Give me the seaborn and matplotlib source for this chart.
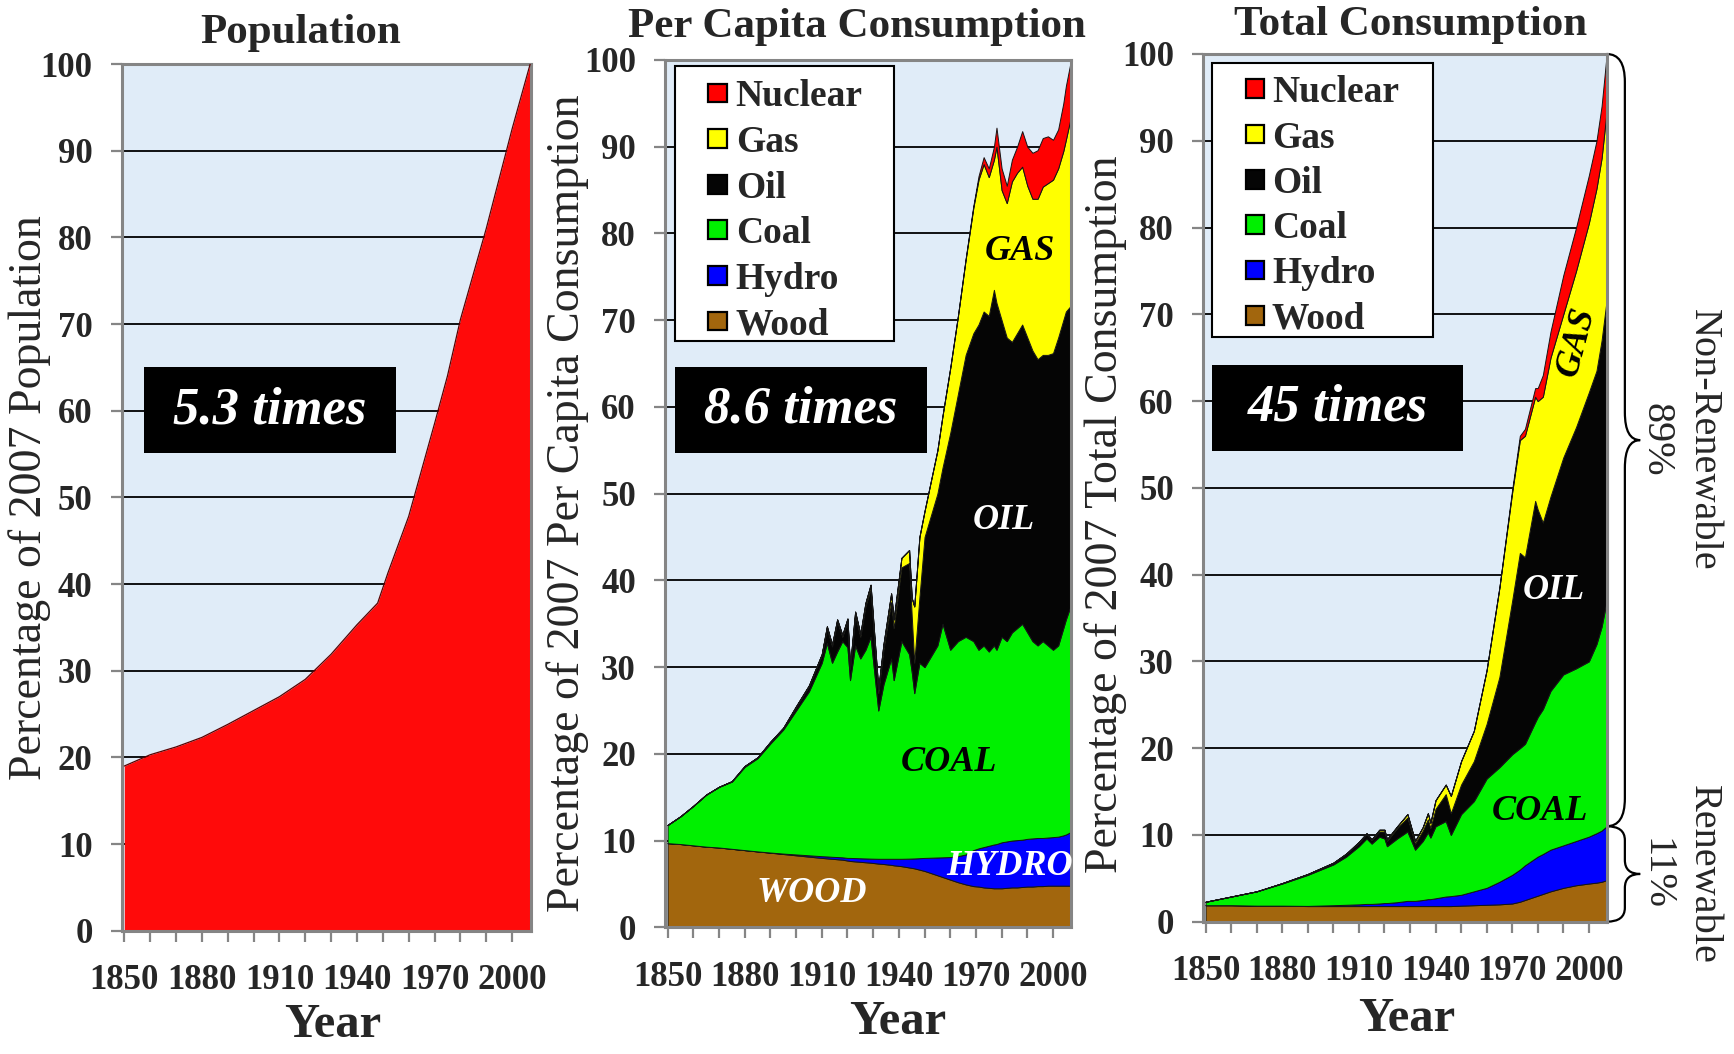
import numpy as np
import matplotlib
matplotlib.use("Agg")
import matplotlib.pyplot as plt
import seaborn as sns
from matplotlib.patches import Rectangle, PathPatch
from matplotlib.path import Path
from matplotlib.transforms import blended_transform_factory
from matplotlib.font_manager import FontProperties

sns.set_theme(style="white")
plt.rcParams["font.family"] = ["Liberation Serif", "DejaVu Serif"]

W, H = 1734, 1054

# ---------------- data ----------------
pop_years = [1850, 1860, 1870, 1880, 1890, 1900, 1910, 1920, 1930, 1940,
             1948, 1952, 1960, 1970, 1975, 1980, 1990, 2000, 2007]
pop_pct = [19.0, 20.3, 21.2, 22.3, 23.8, 25.4, 27.0, 29.0, 31.9, 35.3,
           37.8, 41.3, 47.8, 58.5, 64.0, 70.5, 81.0, 92.5, 100.0]

# per-capita consumption, cumulative layer tops (% of 2007)
pc_years = [1850, 1855, 1860, 1865, 1870, 1875, 1880, 1885, 1890, 1895,
            1900, 1905, 1910, 1912, 1914, 1916, 1918, 1920, 1921, 1923,
            1925, 1927, 1929, 1932, 1934, 1937, 1938, 1941, 1944, 1945,
            1946, 1948, 1950, 1955, 1957, 1960, 1963, 1966, 1969, 1971,
            1973, 1975, 1977, 1978, 1980, 1982, 1984, 1986, 1988, 1990,
            1992, 1994, 1996, 1998, 2000, 2002, 2004, 2005, 2007]
pc_wood_top = [9.7, 9.6, 9.45, 9.3, 9.2, 9.05, 8.9, 8.75, 8.6, 8.45,
               8.3, 8.15, 8.0, 7.95, 7.9, 7.85, 7.8, 7.7, 7.65, 7.6,
               7.55, 7.5, 7.45, 7.35, 7.3, 7.2, 7.15, 7.05, 6.9, 6.85,
               6.8, 6.65, 6.5, 6.0, 5.8, 5.5, 5.2, 4.95, 4.75, 4.7,
               4.6, 4.55, 4.5, 4.5, 4.5, 4.55, 4.6, 4.6, 4.65, 4.7,
               4.7, 4.75, 4.75, 4.8, 4.8, 4.8, 4.8, 4.8, 4.8]
pc_hydro_top = [9.7, 9.6, 9.45, 9.3, 9.2, 9.05, 8.9, 8.75, 8.62, 8.5,
                8.4, 8.3, 8.2, 8.17, 8.13, 8.1, 8.07, 8.0, 8.0, 7.98,
                7.96, 7.94, 7.92, 7.9, 7.9, 7.9, 7.9, 7.9, 7.92, 7.93,
                7.94, 7.97, 8.0, 8.05, 8.07, 8.1, 8.2, 8.4, 8.9, 9.1,
                9.25, 9.4, 9.55, 9.6, 9.8, 9.9, 10.0, 10.05, 10.1, 10.2,
                10.25, 10.3, 10.3, 10.35, 10.4, 10.45, 10.6, 10.7, 11.0]
pc_coal_top = [11.8, 12.8, 14.0, 15.3, 16.2, 16.8, 18.5, 19.5, 21.2, 22.8,
               25.0, 27.2, 30.5, 32.8, 30.5, 31.8, 33.0, 32.3, 28.5, 32.5,
               31.0, 32.0, 33.5, 25.0, 28.0, 31.0, 28.5, 33.0, 31.5, 29.5,
               27.0, 30.5, 30.0, 32.5, 35.0, 32.0, 33.0, 33.5, 33.0, 32.0,
               32.5, 31.8, 32.5, 32.0, 33.5, 33.0, 34.0, 34.5, 35.0, 34.0,
               33.0, 32.5, 33.0, 32.5, 32.0, 32.5, 34.5, 35.5, 37.2]
pc_oil_top = [11.8, 12.8, 14.0, 15.3, 16.2, 16.85, 18.6, 19.6, 21.4, 23.0,
              25.4, 27.8, 31.4, 34.5, 32.4, 35.3, 33.5, 35.3, 29.8, 36.0,
              33.5, 37.0, 39.0, 27.0, 32.0, 37.5, 34.5, 41.5, 42.0, 36.0,
              30.5, 38.0, 45.0, 50.0, 53.0, 57.0, 61.5, 66.0, 68.5, 69.5,
              71.0, 70.5, 73.5, 72.0, 70.0, 68.0, 67.5, 68.5, 69.5, 68.0,
              66.5, 65.5, 66.0, 66.0, 66.2, 68.0, 70.0, 71.0, 71.7]
pc_gas_top = [11.8, 12.8, 14.0, 15.3, 16.2, 16.85, 18.6, 19.6, 21.4, 23.0,
              25.5, 27.9, 31.5, 34.7, 32.6, 35.5, 33.7, 35.6, 30.1, 36.4,
              33.8, 37.4, 39.5, 27.5, 32.6, 38.5, 35.5, 42.6, 43.5, 38.0,
              37.0, 45.0, 48.0, 55.0, 59.0, 64.5, 70.5, 77.0, 83.0, 86.2,
              88.0, 86.5, 88.5, 90.0, 85.0, 83.5, 86.0, 87.0, 87.7, 85.5,
              84.0, 84.0, 85.4, 85.8, 86.2, 87.5, 89.5, 90.8, 93.5]
pc_total = [11.8, 12.8, 14.0, 15.3, 16.2, 16.85, 18.6, 19.6, 21.4, 23.0,
            25.5, 27.9, 31.5, 34.7, 32.6, 35.5, 33.7, 35.6, 30.1, 36.4,
            33.8, 37.4, 39.5, 27.5, 32.6, 38.5, 35.5, 42.6, 43.5, 38.0,
            37.0, 45.0, 48.0, 55.0, 59.0, 64.5, 70.5, 77.1, 83.2, 86.6,
            88.8, 87.5, 90.0, 92.2, 87.5, 85.5, 88.5, 90.0, 91.8, 90.0,
            89.3, 89.6, 91.0, 91.2, 90.8, 92.0, 95.0, 97.0, 100.0]

# total consumption, cumulative layer tops (% of 2007)
tc_years = [1850, 1860, 1870, 1880, 1890, 1900, 1905, 1910, 1913, 1915,
            1918, 1920, 1921, 1925, 1929, 1932, 1935, 1937, 1938, 1940,
            1944, 1946, 1950, 1955, 1960, 1965, 1970, 1973, 1975, 1979,
            1980, 1982, 1985, 1990, 1995, 2000, 2003, 2005, 2007]
tc_wood_top = [1.9, 1.9, 1.85, 1.85, 1.8, 1.8, 1.8, 1.8, 1.8, 1.8,
               1.8, 1.8, 1.8, 1.8, 1.8, 1.8, 1.8, 1.8, 1.8, 1.8,
               1.8, 1.8, 1.85, 1.9, 1.95, 2.0, 2.1, 2.3, 2.5, 2.9,
               3.0, 3.2, 3.5, 3.9, 4.2, 4.4, 4.5, 4.6, 4.8]
tc_hydro_top = [1.9, 1.9, 1.85, 1.85, 1.82, 1.9, 1.95, 2.0, 2.05, 2.05,
                2.1, 2.15, 2.15, 2.25, 2.4, 2.4, 2.5, 2.6, 2.6, 2.7,
                2.9, 2.95, 3.1, 3.5, 3.9, 4.6, 5.4, 6.0, 6.5, 7.3,
                7.5, 7.8, 8.3, 8.8, 9.3, 9.8, 10.2, 10.5, 11.0]
tc_coal_top = [2.3, 2.9, 3.5, 4.4, 5.4, 6.6, 7.5, 8.7, 9.6, 9.0,
               9.8, 9.6, 8.7, 9.6, 10.4, 8.3, 9.3, 10.3, 9.7, 11.0,
               11.6, 10.0, 12.4, 13.9, 16.5, 17.8, 19.3, 20.0, 20.5, 23.0,
               23.6, 24.5, 26.6, 28.5, 29.2, 30.0, 32.0, 34.0, 37.0]
tc_oil_top = [2.3, 2.9, 3.5, 4.45, 5.5, 6.8, 7.8, 9.1, 10.1, 9.4,
              10.4, 10.4, 9.3, 10.8, 12.0, 9.0, 10.5, 11.8, 10.8, 13.0,
              14.7, 12.5, 15.8, 18.5, 22.8, 28.2, 37.0, 42.5, 42.0, 48.5,
              47.5, 46.0, 49.0, 53.5, 57.0, 61.0, 63.5, 67.0, 71.7]
tc_gas_top = [2.3, 2.9, 3.5, 4.45, 5.5, 6.8, 7.85, 9.2, 10.2, 9.5,
              10.6, 10.6, 9.5, 11.0, 12.4, 9.3, 10.9, 12.5, 11.4, 14.0,
              15.8, 14.5, 18.5, 22.0, 29.0, 38.5, 49.5, 55.5, 56.0, 60.5,
              60.0, 60.5, 65.0, 70.0, 75.0, 80.5, 84.5, 88.0, 93.5]
tc_total = [2.3, 2.9, 3.5, 4.45, 5.5, 6.8, 7.85, 9.2, 10.2, 9.5,
            10.6, 10.6, 9.5, 11.0, 12.4, 9.3, 10.9, 12.5, 11.4, 14.0,
            15.8, 14.5, 18.5, 22.0, 29.0, 38.5, 49.8, 56.0, 56.8, 61.5,
            61.5, 63.0, 68.0, 74.5, 80.0, 86.0, 90.0, 94.0, 100.0]

sources = ["Wood", "Hydro", "Coal", "Oil", "Gas", "Nuclear"]
source_colors = ["#a2660d", "#0000ff", "#00f000", "#050505", "#ffff00", "#ff0000"]
renewable_pct = 11
nonrenewable_pct = 89
growth_labels = ["5.3 times", "8.6 times", "45 times"]
y_ticks = list(range(0, 101, 10))
x_major = list(range(1850, 2001, 30))
x_minor = list(range(1850, 2001, 10))

# ---------------- styling helpers ----------------
BG = "#e0ecf8"
SPINE = "#858585"
tick_font = FontProperties(family="Liberation Serif", weight="bold", size=25)
legend_font = FontProperties(family="Liberation Serif", weight="bold", size=27)


def fpx(x, y):
    return x / W, 1 - y / H


def style_axes(ax, xmax):
    ax.set_facecolor(BG)
    ax.set_xlim(1849, xmax)
    ax.set_ylim(0, 100)
    ax.set_axisbelow(True)
    ax.set_yticks(y_ticks, labels=[str(v) for v in y_ticks],
                  fontproperties=tick_font)
    ax.set_xticks(x_major, labels=[str(v) for v in x_major],
                  fontproperties=tick_font)
    ax.set_xticks(x_minor, minor=True)
    ax.yaxis.grid(True, color="black", lw=1.3)
    ax.xaxis.grid(False)
    for s in ax.spines.values():
        s.set_color(SPINE)
        s.set_linewidth(2.2)
        s.set_visible(True)
    ax.tick_params(axis="both", which="both", direction="out", length=8,
                   width=1.6, color=SPINE, left=True, bottom=True)
    ax.tick_params(axis="y", pad=13)
    ax.tick_params(axis="x", pad=16)
    ax.set_xlabel("")
    ax.set_ylabel("")


def stack(ax, years, tops):
    cum = np.vstack([np.zeros(len(years))] + [np.asarray(t, float) for t in tops])
    layers = np.clip(np.diff(cum, axis=0), 0, None)
    ax.stackplot(years, layers, colors=source_colors, edgecolor="#151515",
                 linewidth=0.7, zorder=2)


def growth_box(ax, rect, text):
    x0, y0, x1, y1 = rect
    ax.add_patch(Rectangle((x0, y0), x1 - x0, y1 - y0, transform=ax.transAxes,
                           facecolor="black", edgecolor="none", zorder=5))
    ax.text((x0 + x1) / 2, (y0 + y1) / 2, text, transform=ax.transAxes,
            color="white", fontsize=38, fontweight="bold", style="italic",
            ha="center", va="center", zorder=6)


def key_box(ax, box, row0, pitch, patch_x, text_x):
    """Legend drawn in axes fractions: framed box, swatches, labels."""
    bx0, by0, bx1, by1 = box
    ax.add_patch(Rectangle((bx0, by0), bx1 - bx0, by1 - by0,
                           transform=ax.transAxes, facecolor="white",
                           edgecolor="black", lw=1.5, zorder=7))
    pw, ph = patch_x[1] - patch_x[0], 0.0215
    for i, (name, col) in enumerate(zip(sources[::-1], source_colors[::-1])):
        yc = row0 - i * pitch
        ax.add_patch(Rectangle((patch_x[0], yc - ph / 2), pw, ph,
                               transform=ax.transAxes, facecolor=col,
                               edgecolor="black", lw=1.6, zorder=8))
        ax.text(text_x, yc, name, transform=ax.transAxes,
                fontproperties=legend_font, ha="left", va="center_baseline",
                zorder=8)


def area_label(ax, x, y, s, color, rot=0):
    ax.text(x, y, s, color=color, fontsize=26, fontweight="bold",
            style="italic", ha="center", va="center", rotation=rot, zorder=4)


def brace(ax, y0, y1, x0, xm, x1, r):
    ym = (y0 + y1) / 2
    verts = [(x0, y1), (xm, y1), (xm, y1 - r), (xm, ym + r), (xm, ym), (x1, ym),
             (xm, ym), (xm, ym - r), (xm, y0 + r), (xm, y0), (x0, y0)]
    codes = [Path.MOVETO, Path.CURVE3, Path.CURVE3, Path.LINETO, Path.CURVE3,
             Path.CURVE3, Path.CURVE3, Path.CURVE3, Path.LINETO, Path.CURVE3,
             Path.CURVE3]
    trans = blended_transform_factory(ax.transAxes, ax.transData)
    ax.add_patch(PathPatch(Path(verts, codes), facecolor="none",
                           edgecolor="black", lw=1.6, transform=trans,
                           clip_on=False))


fig = plt.figure(figsize=(W / 100, H / 100), dpi=100)
fig.patch.set_facecolor("white")


def add_axes(left, right, top, bottom):
    return fig.add_axes([left / W, 1 - bottom / H, (right - left) / W,
                         (bottom - top) / H])


ax1 = add_axes(121.7, 530.7, 64, 930.7)
ax2 = add_axes(665, 1071, 60, 927.3)
ax3 = add_axes(1203, 1606.7, 54, 921.7)

# ---------------- population ----------------
ax1.fill_between(pop_years, pop_pct, color="#ff0a0a", lw=0, zorder=2)
sns.lineplot(x=pop_years, y=pop_pct, ax=ax1, color="#5a0000", lw=0.9,
             zorder=3, legend=False)
style_axes(ax1, 2007.2)
growth_box(ax1, (0.0545, 0.551, 0.6707, 0.650), growth_labels[0])

# ---------------- per capita ----------------
stack(ax2, pc_years, [pc_wood_top, pc_hydro_top, pc_coal_top, pc_oil_top,
                      pc_gas_top, pc_total])
style_axes(ax2, 2007)
key_box(ax2, (0.0246, 0.676, 0.564, 0.993), 0.962, 0.0526,
        (0.106, 0.153), 0.174)
growth_box(ax2, (0.0246, 0.547, 0.645, 0.646), growth_labels[1])
area_label(ax2, 1987, 77.9, "GAS", "black")
area_label(ax2, 1981, 46.9, "OIL", "white")
area_label(ax2, 1959.5, 19.0, "COAL", "black")
area_label(ax2, 1983, 7.0, "HYDRO", "white")
area_label(ax2, 1906, 3.9, "WOOD", "white")

# ---------------- total ----------------
stack(ax3, tc_years, [tc_wood_top, tc_hydro_top, tc_coal_top, tc_oil_top,
                      tc_gas_top, tc_total])
style_axes(ax3, 2007)
key_box(ax3, (0.0223, 0.674, 0.570, 0.9896), 0.960, 0.0522,
        (0.1054, 0.151), 0.1709)
growth_box(ax3, (0.0223, 0.5425, 0.644, 0.6416), growth_labels[2])
area_label(ax3, 1995.2, 66.8, "GAS", "black", rot=75)
area_label(ax3, 1986.4, 38.2, "OIL", "white")
area_label(ax3, 1980.8, 12.7, "COAL", "black")

# renewable / non-renewable braces
brace(ax3, renewable_pct, renewable_pct + nonrenewable_pct, 1.0, 1.045, 1.083, 3.2)
brace(ax3, 0, renewable_pct, 1.0, 1.045, 1.083, 1.6)
mid_non = renewable_pct + nonrenewable_pct / 2
mid_ren = renewable_pct / 2
tr3 = blended_transform_factory(ax3.transAxes, ax3.transData)
side_kw = dict(transform=tr3, rotation=-90, ha="center", va="center",
               fontsize=29, clip_on=False)
ax3.text(1.2385, mid_non, "Non-Renewable", **side_kw)
ax3.text(1.122, mid_non, f"{nonrenewable_pct}%", **side_kw)
ax3.text(1.2385, mid_ren, "Renewable", **side_kw)
ax3.text(1.122, mid_ren, f"{renewable_pct}%", **side_kw)

# ---------------- titles and axis labels ----------------
title_kw = dict(fontsize=31, fontweight="bold", ha="center", va="center")
fig.text(*fpx(301, 33), "Population", **title_kw)
fig.text(*fpx(857, 27), "Per Capita Consumption", **title_kw)
fig.text(*fpx(1411, 25), "Total Consumption", **title_kw)

ylab_kw = dict(fontsize=33, rotation=90, ha="center", va="center")
fig.text(*fpx(30, 498), "Percentage of 2007 Population", **ylab_kw)
fig.text(*fpx(568, 503), "Percentage of 2007 Per Capita Consumption", **ylab_kw)
fig.text(*fpx(1106, 514), "Percentage of 2007 Total Consumption", **ylab_kw)

year_kw = dict(fontsize=35, fontweight="bold", ha="center", va="center")
fig.text(*fpx(333, 1025), "Year", **year_kw)
fig.text(*fpx(898, 1022), "Year", **year_kw)
fig.text(*fpx(1407, 1019), "Year", **year_kw)

fig.savefig("out.png", dpi=100, facecolor="white")
